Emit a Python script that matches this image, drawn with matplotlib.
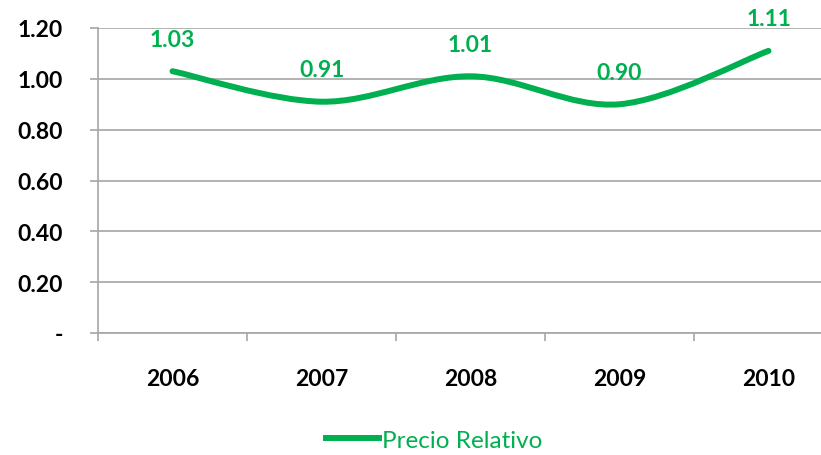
import matplotlib.pyplot as plt
from matplotlib.path import Path
from matplotlib.patches import PathPatch
from matplotlib.lines import Line2D

years = ["2006", "2007", "2008", "2009", "2010"]
precio_relativo = [1.03, 0.91, 1.01, 0.90, 1.11]
y_ticks = [0.0, 0.2, 0.4, 0.6, 0.8, 1.0, 1.2]
y_tick_labels = ["-", "0.20", "0.40", "0.60", "0.80", "1.00", "1.20"]

green = "#00B050"
grid_gray = "#A6A6A6"
font = ["Lato", "DejaVu Sans"]
plt.rcParams["font.family"] = font


def smooth_path(xs, ys):
    # Excel-style smoothed line: cubic bezier segments through every point
    pts = list(zip(xs, ys))
    verts = [pts[0]]
    codes = [Path.MOVETO]
    n = len(pts)
    for i in range(n - 1):
        p0 = pts[i - 1] if i > 0 else pts[i]
        p1 = pts[i]
        p2 = pts[i + 1]
        p3 = pts[i + 2] if i + 2 < n else pts[i + 1]
        c1 = (p1[0] + (p2[0] - p0[0]) / 6, p1[1] + (p2[1] - p0[1]) / 6)
        c2 = (p2[0] - (p3[0] - p1[0]) / 6, p2[1] - (p3[1] - p1[1]) / 6)
        verts += [c1, c2, p2]
        codes += [Path.CURVE4] * 3
    return Path(verts, codes)


fig = plt.figure(figsize=(8.21, 4.56), dpi=100)
ax = fig.add_axes([98 / 821, 1 - 334 / 456, (843 - 98) / 821, (334 - 29) / 456])

x = list(range(len(years)))
ax.add_patch(PathPatch(smooth_path(x, precio_relativo), facecolor="none",
                       edgecolor=green, lw=4.3, capstyle="round", zorder=3))

for xi, v in zip(x, precio_relativo):
    ax.annotate(f"{v:.2f}", (xi, v), xytext=(0, 23), textcoords="offset points",
                ha="center", va="center", color=green, fontsize=16.5,
                fontweight="bold")

ax.set_xlim(-0.5, len(years) - 0.5)
ax.set_ylim(0, 1.2)
ax.set_yticks(y_ticks)
ax.set_yticklabels(y_tick_labels, fontsize=16.5, fontweight="bold")
ax.set_xticks(x)
ax.set_xticklabels(years, fontsize=16.5, fontweight="bold")
ax.set_xticks([i - 0.5 for i in range(len(years) + 1)], minor=True)
ax.tick_params(axis="x", which="major", length=0, pad=25)
ax.tick_params(axis="x", which="minor", length=6, color=grid_gray, width=1.2)
ax.tick_params(axis="y", length=6, color=grid_gray, width=1.2, pad=19)

ax.grid(axis="y", color=grid_gray, lw=1.2)
ax.set_axisbelow(True)
for side in ["top", "right"]:
    ax.spines[side].set_visible(False)
for side in ["left", "bottom"]:
    ax.spines[side].set_color(grid_gray)
    ax.spines[side].set_linewidth(1.2)

handle = Line2D([], [], color=green, lw=4.3)
leg = fig.legend([handle], ["Precio Relativo"], loc="center",
                 bbox_to_anchor=(434 / 821, 1 - 441 / 456), frameon=False,
                 fontsize=17.5, handlelength=2.2, handletextpad=0.1)
for t in leg.get_texts():
    t.set_color(green)

fig.savefig("out.png", dpi=100)
